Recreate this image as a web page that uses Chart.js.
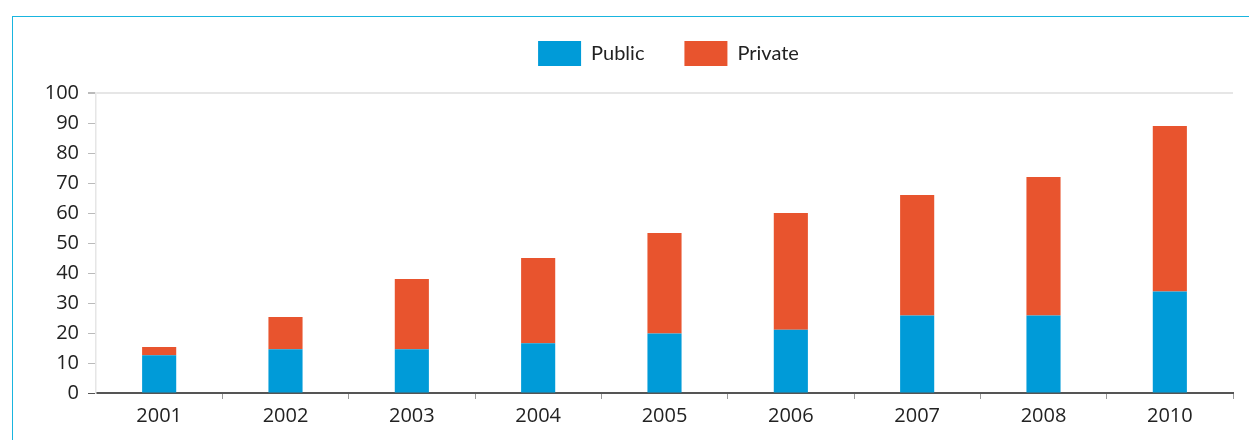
<!DOCTYPE html>
<html>
<head>
<meta charset="utf-8">
<script src="https://cdn.jsdelivr.net/npm/chart.js@4.4.1/dist/chart.umd.min.js"></script>
<style>
  html, body { margin: 0; padding: 0; background: #fff; overflow: hidden; }
  #frame { position: absolute; left: 12px; top: 16px; width: 1300px; height: 500px;
           border-top: 1px solid #19b5df; border-left: 1px solid #19b5df; }
  #wrap { position: absolute; left: 0; top: 0; width: 1249px; height: 440px; }
</style>
</head>
<body>
<div id="frame"></div>
<div id="wrap"><canvas id="myChart" width="1249" height="440"></canvas></div>
<script>
var years = ['2001', '2002', '2003', '2004', '2005', '2006', '2007', '2008', '2010'];
var publicVals = [12.6, 14.6, 14.6, 16.6, 19.8, 21.1, 25.8, 25.8, 33.8];
var privateVals = [2.7, 10.7, 23.4, 28.4, 33.5, 38.9, 40.2, 46.2, 55.2];
var yTicks = [0, 10, 20, 30, 40, 50, 60, 70, 80, 90, 100];

var textColor = '#222';
var tickFont = { family: 'Open Sans', size: 20 };
var frameColor = '#e6e6e6';

// put the legend over the plot area and pull it up a bit
var legendPos = {
  id: 'legendPos',
  afterLayout: function (chart) {
    var lg = chart.legend;
    lg.left = chart.chartArea.left + 4;
    lg.right = chart.chartArea.right + 4;
    lg.top -= 17;
    lg.bottom -= 17;
  }
};

var ctx = document.getElementById('myChart');
var chart = new Chart(ctx, {
  type: 'bar',
  data: {
    labels: years,
    datasets: [
      { label: 'Public', data: publicVals, backgroundColor: '#009bd8' },
      { label: 'Private', data: privateVals, backgroundColor: '#e8542e' }
    ]
  },
  options: {
    responsive: false,
    animation: false,
    devicePixelRatio: 1,
    layout: { padding: { left: 44, right: 16, top: 18, bottom: 13 } },
    datasets: { bar: { categoryPercentage: 1, barPercentage: 0.27 } },
    plugins: {
      tooltip: { enabled: false },
      legend: {
        position: 'top',
        labels: {
          boxWidth: 43, boxHeight: 25, padding: 40,
          color: textColor,
          font: { family: 'Lato', size: 20 }
        }
      }
    },
    scales: {
      x: {
        stacked: true,
        afterFit: function (s) { s.height = 34; },
        border: { color: '#555', width: 2 },
        grid: {
          offset: true,
          drawOnChartArea: true,
          tickLength: 6,
          lineWidth: function (c) { return c.index === years.length ? 2 : 1; },
          color: function (c) { return c.index === years.length ? frameColor : 'transparent'; },
          tickColor: function (c) { return (c.index === 0 || c.index === years.length) ? 'transparent' : '#999'; }
        },
        ticks: { color: textColor, font: tickFont, padding: 5 }
      },
      y: {
        stacked: true,
        min: 0, max: 100,
        afterFit: function (s) { s.width = 52; },
        afterBuildTicks: function (s) { s.ticks = yTicks.map(function (v) { return { value: v }; }); },
        border: { color: frameColor, width: 1.5 },
        grid: {
          drawOnChartArea: true,
          tickLength: 8,
          lineWidth: function (c) { return c.tick && c.tick.value === 100 ? 2 : 1; },
          color: function (c) { return c.tick && c.tick.value === 100 ? frameColor : 'transparent'; },
          tickColor: function (c) { return c.tick && c.tick.value === 0 ? '#555' : '#bbb'; }
        },
        ticks: { color: textColor, font: tickFont, padding: 9 }
      }
    }
  },
  plugins: [legendPos]
});
</script>
</body>
</html>
